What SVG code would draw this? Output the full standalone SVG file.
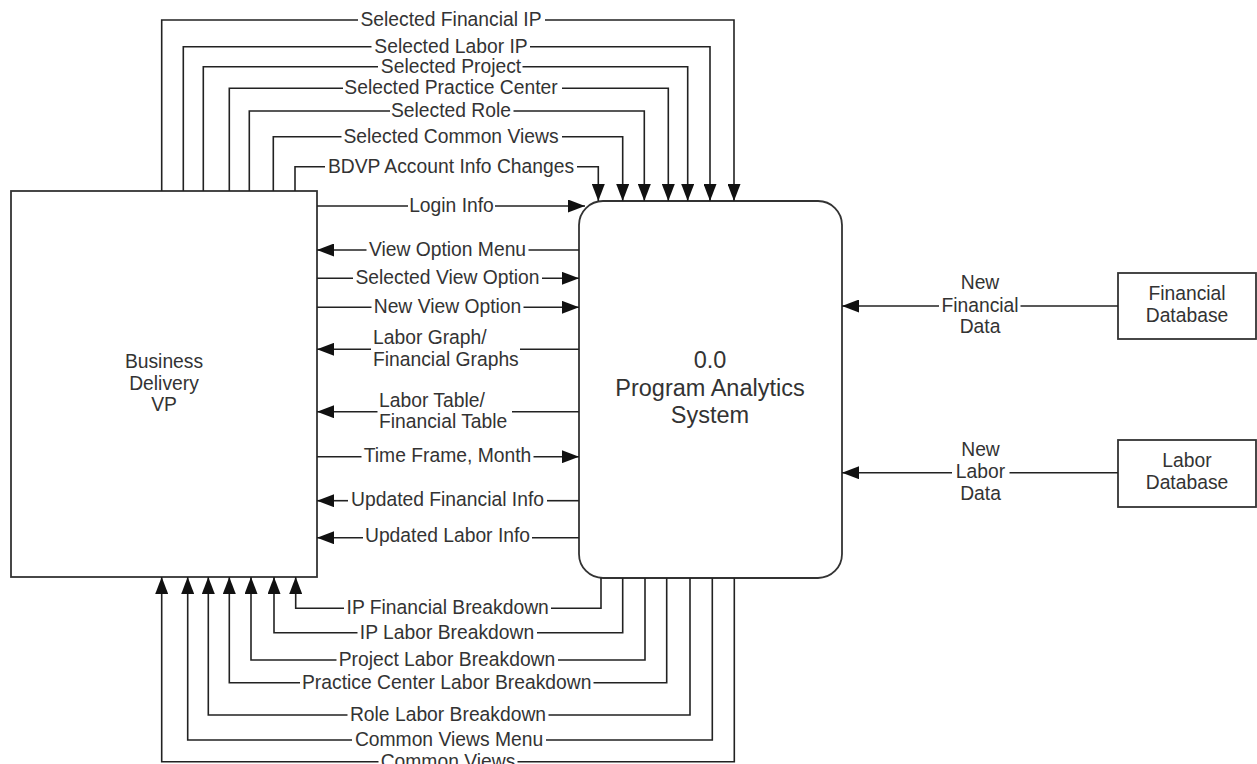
<svg xmlns="http://www.w3.org/2000/svg" width="1257" height="764" viewBox="0 0 1257 764">
  <defs>
    <style>
      .lbl{font-family:"Liberation Sans",Arial,sans-serif;font-size:19.3px;fill:#333;text-anchor:middle}
      .big{font-size:23.5px}
      .lft{text-anchor:start}
      .box{fill:#fff;stroke:#333;stroke-width:1.8}
      .ln{fill:none;stroke:#222;stroke-width:1.6}
      .ar{marker-end:url(#ah)}
    </style>
    <marker id="ah" viewBox="0 0 17 13" markerWidth="17" markerHeight="13" refX="17" refY="6.5" orient="auto" markerUnits="userSpaceOnUse">
      <path d="M0,0 L17,6.5 L0,13 Z" fill="#111"/>
    </marker>
  </defs>

  <rect x="0" y="0" width="1257" height="764" fill="#fff"/>

  <!-- external entity -->
  <g id="business-delivery-vp">
    <rect class="box" x="11" y="191" width="306" height="386"/>
    <text class="lbl" x="164" y="368.3">Business</text>
    <text class="lbl" x="164" y="389.5">Delivery</text>
    <text class="lbl" x="164" y="411">VP</text>
  </g>

  <!-- process -->
  <g id="program-analytics-system">
    <rect class="box" x="579" y="201" width="263" height="377" rx="24" ry="24"/>
    <text class="lbl big" x="710" y="368">0.0</text>
    <text class="lbl big" x="710" y="396">Program Analytics</text>
    <text class="lbl big" x="710" y="423.3">System</text>
  </g>

  <!-- data sources -->
  <g id="financial-database">
    <rect class="box" x="1118" y="273" width="138" height="66"/>
    <text class="lbl" x="1187" y="300">Financial</text>
    <text class="lbl" x="1187" y="322.3">Database</text>
  </g>
  <g id="labor-database">
    <rect class="box" x="1118" y="440" width="138" height="67"/>
    <text class="lbl" x="1187" y="466.7">Labor</text>
    <text class="lbl" x="1187" y="489.3">Database</text>
  </g>

  <!-- data flows -->
  <g id="connectors">
    <!-- VP to system, over the top -->
    <path class="ln" d="M161.7,191 V20 H358"/><path class="ln ar" d="M545,20 H734 V201"/>
    <path class="ln" d="M183.3,191 V46.7 H371.5"/><path class="ln ar" d="M530,46.7 H710 V201"/>
    <path class="ln" d="M203.3,191 V66.7 H378"/><path class="ln ar" d="M522.5,66.7 H687.7 V201"/>
    <path class="ln" d="M229.3,191 V88.3 H343"/><path class="ln ar" d="M562,88.3 H668.3 V201"/>
    <path class="ln" d="M249.3,191 V111 H390"/><path class="ln ar" d="M513.5,111 H644.3 V201"/>
    <path class="ln" d="M273.3,191 V136.7 H341.5"/><path class="ln ar" d="M562,136.7 H622.7 V201"/>
    <path class="ln" d="M295,191 V166.7 H325"/><path class="ln ar" d="M577,166.7 H598.3 V201"/>

    <!-- flows between the two boxes -->
    <path class="ln" d="M317,206 H408"/><path class="ln ar" d="M495,206 H585"/>
    <path class="ln" d="M579,250 H528.5"/><path class="ln ar" d="M366.5,250 H317"/>
    <path class="ln" d="M317,278.3 H353"/><path class="ln ar" d="M542,278.3 H579"/>
    <path class="ln" d="M317,307.3 H371.5"/><path class="ln ar" d="M523.5,307.3 H579"/>
    <path class="ln" d="M579,349.3 H520"/><path class="ln ar" d="M371,349.3 H317"/>
    <path class="ln" d="M579,411.7 H512"/><path class="ln ar" d="M377.5,411.7 H317"/>
    <path class="ln" d="M317,456.7 H361.5"/><path class="ln ar" d="M533.5,456.7 H579"/>
    <path class="ln" d="M579,500.7 H547"/><path class="ln ar" d="M348,500.7 H317"/>
    <path class="ln" d="M579,537.7 H532"/><path class="ln ar" d="M363,537.7 H317"/>

    <!-- databases to system -->
    <path class="ln" d="M1118,306 H1020.5"/><path class="ln ar" d="M939,306 H842"/>
    <path class="ln" d="M1118,472.7 H1009.5"/><path class="ln ar" d="M952,472.7 H842"/>

    <!-- system to VP, along the bottom -->
    <path class="ln" d="M601,578 V608.3 H551"/><path class="ln ar" d="M344,608.3 H295.7 V577"/>
    <path class="ln" d="M622.7,578 V632.7 H537"/><path class="ln ar" d="M357.5,632.7 H274 V577"/>
    <path class="ln" d="M645,578 V660 H558"/><path class="ln ar" d="M336.5,660 H251 V577"/>
    <path class="ln" d="M666.7,578 V682.7 H593.5"/><path class="ln ar" d="M300,682.7 H229.3 V577"/>
    <path class="ln" d="M690,578 V715 H548.5"/><path class="ln ar" d="M347.5,715 H208.3 V577"/>
    <path class="ln" d="M712.3,578 V740 H546"/><path class="ln ar" d="M352,740 H187.7 V577"/>
    <path class="ln" d="M734.3,578 V761.7 H517.5"/><path class="ln ar" d="M378.5,761.7 H161.7 V577"/>
  </g>

  <!-- flow labels -->
  <g id="flow-labels">
    <text class="lbl" x="451" y="26">Selected Financial IP</text>
    <text class="lbl" x="451" y="52.7">Selected Labor IP</text>
    <text class="lbl" x="451" y="72.7">Selected Project</text>
    <text class="lbl" x="451" y="94.3">Selected Practice Center</text>
    <text class="lbl" x="451" y="117">Selected Role</text>
    <text class="lbl" x="451" y="142.7">Selected Common Views</text>
    <text class="lbl" x="451" y="172.7">BDVP Account Info Changes</text>

    <text class="lbl" x="451.5" y="211.5">Login Info</text>
    <text class="lbl" x="447.5" y="255.7">View Option Menu</text>
    <text class="lbl" x="447.5" y="284">Selected View Option</text>
    <text class="lbl" x="447.5" y="313">New View Option</text>
    <text class="lbl lft" x="373" y="344">Labor Graph/</text>
    <text class="lbl lft" x="373" y="365.7">Financial Graphs</text>
    <text class="lbl lft" x="379" y="407.3">Labor Table/</text>
    <text class="lbl lft" x="379" y="427.7">Financial Table</text>
    <text class="lbl" x="447.5" y="462.4">Time Frame, Month</text>
    <text class="lbl" x="447.5" y="506.4">Updated Financial Info</text>
    <text class="lbl" x="447.5" y="542">Updated Labor Info</text>

    <text class="lbl" x="980" y="289.3">New</text>
    <text class="lbl" x="980" y="311.7">Financial</text>
    <text class="lbl" x="980" y="333.3">Data</text>
    <text class="lbl" x="980.5" y="456">New</text>
    <text class="lbl" x="980.5" y="478.3">Labor</text>
    <text class="lbl" x="980.5" y="500">Data</text>

    <text class="lbl" x="447.7" y="614">IP Financial Breakdown</text>
    <text class="lbl" x="447" y="638.5">IP Labor Breakdown</text>
    <text class="lbl" x="447" y="665.8">Project Labor Breakdown</text>
    <text class="lbl" x="446.7" y="688.5">Practice Center Labor Breakdown</text>
    <text class="lbl" x="448" y="720.8">Role Labor Breakdown</text>
    <text class="lbl" x="449" y="745.8">Common Views Menu</text>
    <text class="lbl" x="448" y="767.5">Common Views</text>
  </g>
</svg>
